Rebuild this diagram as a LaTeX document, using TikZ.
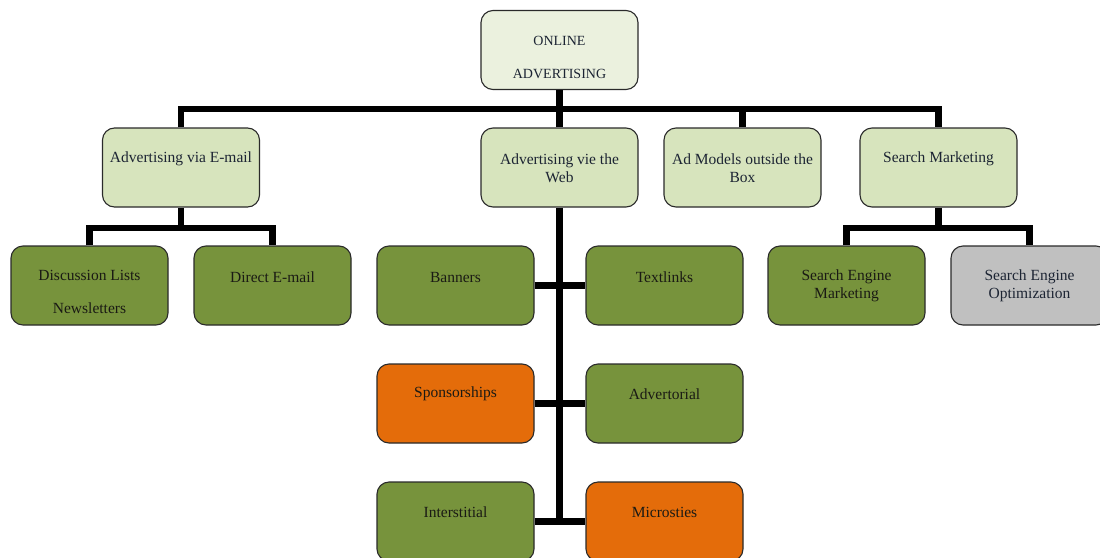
\documentclass[tikz,border=0pt]{standalone}
\usepackage{fontspec}
\setmainfont{Liberation Serif}
\definecolor{rootc}{HTML}{EBF1DE}
\definecolor{lightg}{HTML}{D7E4BD}
\definecolor{darkg}{HTML}{77933C}
\definecolor{orangec}{HTML}{E46C0A}
\definecolor{grayc}{HTML}{C0C0C0}
\definecolor{navytxt}{HTML}{1C2433}
\definecolor{darktxt}{HTML}{1A1A14}
\definecolor{edgec}{HTML}{2A2A2A}
\tikzset{
  box/.style={draw=edgec, line width=1.1pt, rounded corners=12pt, minimum width=157pt, minimum height=79pt, inner sep=0pt},
  lbox/.style={box, fill=lightg},
  gbox/.style={box, fill=darkg},
  obox/.style={box, fill=orangec},
  ybox/.style={box, fill=grayc},
  txt/.style={font=\fontsize{15.5}{18}\selectfont, align=center, text=darktxt, inner sep=0pt},
  ltxt/.style={txt, text=navytxt},
  conn/.style={line width=6.5pt, draw=black}
}
\begin{document}
\begin{tikzpicture}[x=1pt,y=-1pt]
\fill[white] (0,0) rectangle (1100,557);
\useasboundingbox (0,0) rectangle (1100,557);
\coordinate (bus) at (0,109);
\coordinate (ebus) at (0,228);
% boxes
\node[box, fill=rootc] (root) at (559.5,50) {};
\node[lbox] (email) at (181,167.5) {};
\node[lbox] (web) at (559.5,167.5) {};
\node[lbox] (adm) at (742.5,167.5) {};
\node[lbox] (search) at (938.5,167.5) {};
\node[gbox] (disc) at (89.5,285.5) {};
\node[gbox] (direct) at (272.5,285.5) {};
\node[gbox] (banners) at (455.5,285.5) {};
\node[gbox] (textlinks) at (664.5,285.5) {};
\node[obox] (spons) at (455.5,403.5) {};
\node[gbox] (advert) at (664.5,403.5) {};
\node[gbox] (inter) at (455.5,521.5) {};
\node[obox] (micro) at (664.5,521.5) {};
\node[gbox] (sem) at (846.5,285.5) {};
\node[ybox] (seo) at (1029.5,285.5) {};
% texts
\node[ltxt, font=\fontsize{14}{33}\selectfont] (roott) at (559.5,57) {ONLINE\\ADVERTISING};
\node[ltxt] (emailt) at (181,159) {Advertising via E-mail};
\node[ltxt] (webt) at (559.5,168) {Advertising vie the\\Web};
\node[ltxt] (admt) at (742.5,168) {Ad Models outside the\\Box};
\node[ltxt] (searcht) at (938.5,159) {Search Marketing};
\node[txt, font=\fontsize{15.5}{33}\selectfont] (disct) at (89.5,292) {Discussion Lists\\Newsletters};
\node[txt] (directt) at (272.5,277) {Direct E-mail};
\node[txt] (bannerst) at (455.5,277) {Banners};
\node[txt] (textlinkst) at (664.5,277) {Textlinks};
\node[txt] (sponst) at (455.5,394) {Sponsorships};
\node[txt] (advertt) at (664.5,394) {Advertorial};
\node[txt] (intert) at (455.5,512) {Interstitial};
\node[txt] (microt) at (664.5,512) {Microsties};
\node[txt] (semt) at (846.5,286) {Search Engine\\Marketing};
\node[ltxt] (seot) at (1029.5,286) {Search Engine\\Optimization};
% connectors
\draw[conn] (root.south) -- (root.south |- bus);
\draw[conn] (email.north) |- (search.north |- bus) -- (search.north);
\draw[conn] (web.north) -- (web.north |- bus);
\draw[conn] (adm.north) -- (adm.north |- bus);
\draw[conn] (email.south) -- (email.south |- ebus);
\draw[conn] (disc.north) |- (direct.north |- ebus) -- (direct.north);
\draw[conn] (search.south) -- (search.south |- ebus);
\draw[conn] (sem.north) |- (seo.north |- ebus) -- (seo.north);
\draw[conn] (web.south) -- (web.south |- inter.east);
\draw[conn] (banners.east) -- (textlinks.west);
\draw[conn] (spons.east) -- (advert.west);
\draw[conn] (inter.east) -- (micro.west);
\end{tikzpicture}
\end{document}
